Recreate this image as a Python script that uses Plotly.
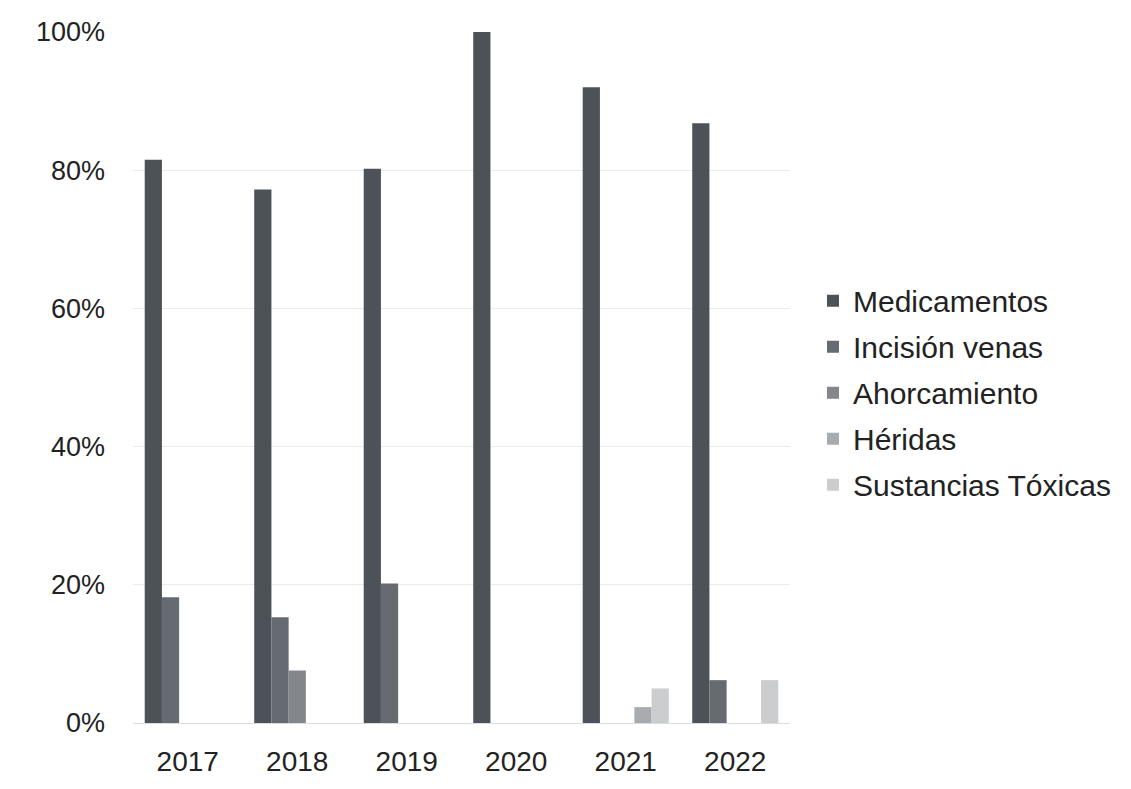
import plotly.graph_objects as go

years = ["2017", "2018", "2019", "2020", "2021", "2022"]

medicamentos = [0.815, 0.772, 0.802, 1.0, 0.92, 0.868]
incision_venas = [0.182, 0.153, 0.202, 0.0, 0.0, 0.062]
ahorcamiento = [0.0, 0.076, 0.0, 0.0, 0.0, 0.0]
heridas = [0.0, 0.0, 0.0, 0.0, 0.023, 0.0]
sustancias_toxicas = [0.0, 0.0, 0.0, 0.0, 0.05, 0.062]

series = [
    ("Medicamentos", medicamentos, "#4d5258"),
    ("Incisión venas", incision_venas, "#666b71"),
    ("Ahorcamiento", ahorcamiento, "#83878c"),
    ("Héridas", heridas, "#a9acaf"),
    ("Sustancias Tóxicas", sustancias_toxicas, "#cbcdcf"),
]

fig = go.Figure()
for name, vals, color in series:
    fig.add_trace(go.Bar(
        x=years, y=vals, name=name, legendgroup=name,
        marker=dict(color=color, line=dict(width=0)),
    ))

font = "Liberation Sans, Arial, sans-serif"
fig.update_layout(
    width=1131, height=789,
    margin=dict(l=133, r=341, t=32, b=64),
    paper_bgcolor="white", plot_bgcolor="white",
    barmode="group", bargap=0.214, bargroupgap=0,
    font=dict(family=font, size=28, color="#222222"),
    showlegend=True,
    legend=dict(
        x=1.035, y=0.478, xanchor="left", yanchor="middle",
        font=dict(size=30, color="#222222"),
        tracegroupgap=4, itemwidth=30,
        bgcolor="rgba(0,0,0,0)",
    ),
    xaxis=dict(
        showgrid=False, ticks="", showline=True,
        linecolor="#d9dde3", linewidth=1,
        tickfont=dict(size=28), ticklabelstandoff=13,
    ),
    yaxis=dict(
        range=[0, 1], dtick=0.2, tickformat=".0%",
        showgrid=True, gridcolor="#ebebeb", gridwidth=1,
        zeroline=False, showline=False, ticks="",
        tickfont=dict(size=27), ticklabelstandoff=27,
    ),
)

fig.write_html("out.html")
